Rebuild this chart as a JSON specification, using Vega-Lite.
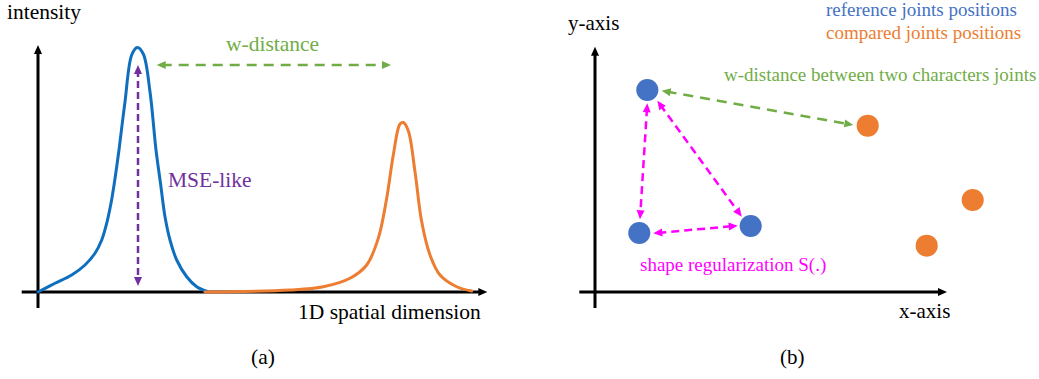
{
  "$schema": "https://vega.github.io/schema/vega-lite/v6.json",
  "padding": 0,
  "spacing": 0,
  "background": "white",
  "config": {"view": {"stroke": null}},
  "datasets": {
    "curves": [
      {"role": "curveRef", "x": 0, "y": 0}, {"role": "curveRef", "x": 0.34, "y": 0.035}, {"role": "curveRef", "x": 0.674, "y": 0.068},
      {"role": "curveRef", "x": 0.94, "y": 0.108}, {"role": "curveRef", "x": 1.14, "y": 0.155}, {"role": "curveRef", "x": 1.274, "y": 0.208},
      {"role": "curveRef", "x": 1.374, "y": 0.275}, {"role": "curveRef", "x": 1.46, "y": 0.355}, {"role": "curveRef", "x": 1.526, "y": 0.435},
      {"role": "curveRef", "x": 1.574, "y": 0.501}, {"role": "curveRef", "x": 1.62, "y": 0.568}, {"role": "curveRef", "x": 1.74, "y": 0.761},
      {"role": "curveRef", "x": 1.874, "y": 0.948}, {"role": "curveRef", "x": 1.986, "y": 0.978}, {"role": "curveRef", "x": 2.106, "y": 0.952},
      {"role": "curveRef", "x": 2.24, "y": 0.801}, {"role": "curveRef", "x": 2.36, "y": 0.568}, {"role": "curveRef", "x": 2.45, "y": 0.435},
      {"role": "curveRef", "x": 2.54, "y": 0.301}, {"role": "curveRef", "x": 2.64, "y": 0.208}, {"role": "curveRef", "x": 2.774, "y": 0.128},
      {"role": "curveRef", "x": 2.974, "y": 0.061}, {"role": "curveRef", "x": 3.174, "y": 0.021}, {"role": "curveRef", "x": 3.374, "y": 0.003},
      {"role": "curveCmp", "x": 3.34, "y": 0}, {"role": "curveCmp", "x": 5.04, "y": 0.008}, {"role": "curveCmp", "x": 5.706, "y": 0.021},
      {"role": "curveCmp", "x": 6.24, "y": 0.055}, {"role": "curveCmp", "x": 6.574, "y": 0.108}, {"role": "curveCmp", "x": 6.806, "y": 0.215},
      {"role": "curveCmp", "x": 6.974, "y": 0.375}, {"role": "curveCmp", "x": 7.106, "y": 0.548}, {"role": "curveCmp", "x": 7.24, "y": 0.672},
      {"role": "curveCmp", "x": 7.306, "y": 0.678}, {"role": "curveCmp", "x": 7.406, "y": 0.645}, {"role": "curveCmp", "x": 7.54, "y": 0.481},
      {"role": "curveCmp", "x": 7.674, "y": 0.281}, {"role": "curveCmp", "x": 7.84, "y": 0.148}, {"role": "curveCmp", "x": 8.04, "y": 0.068},
      {"role": "curveCmp", "x": 8.374, "y": 0.021}, {"role": "curveCmp", "x": 8.674, "y": 0.004}
    ],
    "segA": [
      {"role": "axis", "x": 0, "y": -0.064, "x2": 0, "y2": 0.968},
      {"role": "axis", "x": -0.326, "y": 0, "x2": 8.886, "y2": 0},
      {"role": "wd", "x": 2.474, "y": 0.908, "x2": 6.96, "y2": 0.908},
      {"role": "mse", "x": 2.0, "y": 0.888, "x2": 2.0, "y2": 0.044}
    ],
    "headsA": [
      {"role": "axis", "x": 0, "y": 0.968, "fx": 0, "fy": 0},
      {"role": "axis", "x": 8.886, "y": 0, "fx": 0, "fy": 0},
      {"role": "wd", "x": 2.474, "y": 0.908, "fx": 6.96, "fy": 0.908},
      {"role": "wd", "x": 6.96, "y": 0.908, "fx": 2.474, "fy": 0.908},
      {"role": "mse", "x": 2.0, "y": 0.888, "fx": 2.0, "fy": 0.044},
      {"role": "mse", "x": 2.0, "y": 0.044, "fx": 2.0, "fy": 0.888}
    ],
    "textA": [
      {"role": "axis", "label": "intensity", "x": -0.62, "y": 1.116},
      {"role": "wd", "label": "w-distance", "x": 3.76, "y": 0.988},
      {"role": "mse", "label": "MSE-like", "x": 2.6, "y": 0.444},
      {"role": "axis", "label": "1D spatial dimension", "x": 5.2, "y": -0.084},
      {"role": "axis", "label": "(a)", "x": 4.26, "y": -0.264}
    ],
    "segB": [
      {"role": "axis", "x": 0, "y": -0.32, "x2": 0, "y2": 4.806},
      {"role": "axis", "x": -0.314, "y": 0, "x2": 6.94, "y2": 0},
      {"role": "wd", "x": 1.432, "y": 4.008, "x2": 5.068, "y2": 3.358},
      {"role": "shape", "x": 1.04, "y": 3.674, "x2": 0.906, "y2": 1.554},
      {"role": "shape", "x": 1.305, "y": 3.745, "x2": 2.875, "y2": 1.587},
      {"role": "shape", "x": 1.266, "y": 1.183, "x2": 2.754, "y2": 1.317}
    ],
    "headsB": [
      {"role": "axis", "x": 0, "y": 4.806, "fx": 0, "fy": 0},
      {"role": "axis", "x": 6.94, "y": 0, "fx": 0, "fy": 0},
      {"role": "wd", "x": 1.432, "y": 4.008, "fx": 5.068, "fy": 3.358},
      {"role": "wd", "x": 5.068, "y": 3.358, "fx": 1.432, "fy": 4.008},
      {"role": "shape", "x": 1.04, "y": 3.674, "fx": 0.906, "fy": 1.554},
      {"role": "shape", "x": 0.906, "y": 1.554, "fx": 1.04, "fy": 3.674},
      {"role": "shape", "x": 1.305, "y": 3.745, "fx": 2.875, "fy": 1.587},
      {"role": "shape", "x": 2.875, "y": 1.587, "fx": 1.305, "fy": 3.745},
      {"role": "shape", "x": 1.266, "y": 1.183, "fx": 2.754, "fy": 1.317},
      {"role": "shape", "x": 2.754, "y": 1.317, "fx": 1.266, "fy": 1.183}
    ],
    "joints": [
      {"role": "ref", "x": 1.046, "y": 4.04},
      {"role": "ref", "x": 0.886, "y": 1.18},
      {"role": "ref", "x": 3.114, "y": 1.32},
      {"role": "cmp", "x": 5.454, "y": 3.326},
      {"role": "cmp", "x": 7.554, "y": 1.84},
      {"role": "cmp", "x": 6.634, "y": 0.926}
    ],
    "textB": [
      {"role": "axis", "kind": "axis", "label": "y-axis", "x": -0.54, "y": 5.36},
      {"role": "axis", "kind": "axis", "label": "x-axis", "x": 6.08, "y": -0.4},
      {"role": "axis", "kind": "axis", "label": "(b)", "x": 3.7, "y": -1.32},
      {"role": "ref", "kind": "note", "label": "reference joints positions", "x": 4.62, "y": 5.64},
      {"role": "cmp", "kind": "note", "label": "compared joints positions", "x": 4.62, "y": 5.18},
      {"role": "wd", "kind": "note", "label": "w-distance between two characters joints", "x": 2.58, "y": 4.34},
      {"role": "shape", "kind": "note", "label": "shape regularization S(.)", "x": 0.9, "y": 0.54}
    ]
  },
  "hconcat": [
    {
      "width": 520,
      "height": 379,
      "encoding": {
        "x": {"field": "x", "type": "quantitative", "axis": null, "scale": {"domain": [-0.76, 9.64], "nice": false, "zero": false}},
        "y": {"field": "y", "type": "quantitative", "axis": null, "scale": {"domain": [-0.348, 1.168], "nice": false, "zero": false}},
        "color": {"field": "role", "type": "nominal", "legend": null, "scale": {"domain": ["axis", "curveRef", "curveCmp", "ref", "cmp", "wd", "mse", "shape"], "range": ["#000000", "#0F6FBF", "#ED7D31", "#4472C4", "#ED7D31", "#70AD47", "#7030A0", "#FF00FF"]}}
      },
      "layer": [
        {
          "data": {"name": "segA"},
          "transform": [{"filter": "datum.role === 'axis'"}],
          "mark": {"type": "rule", "strokeWidth": 3},
          "encoding": {"x2": {"field": "x2"}, "y2": {"field": "y2"}}
        },
        {
          "data": {"name": "curves"},
          "mark": {"type": "line", "strokeWidth": 3, "interpolate": "catmull-rom", "strokeCap": "round"},
          "encoding": {"detail": {"field": "role"}}
        },
        {
          "data": {"name": "segA"},
          "transform": [{"filter": "datum.role === 'wd'"}],
          "mark": {"type": "rule", "strokeWidth": 2.5, "strokeDash": [10, 7]},
          "encoding": {"x2": {"field": "x2"}, "y2": {"field": "y2"}}
        },
        {
          "data": {"name": "segA"},
          "transform": [{"filter": "datum.role === 'mse'"}],
          "mark": {"type": "rule", "strokeWidth": 2.5, "strokeDash": [7, 4]},
          "encoding": {"x2": {"field": "x2"}, "y2": {"field": "y2"}}
        },
        {
          "data": {"name": "headsA"},
          "transform": [{"calculate": "atan2(datum.x - datum.fx, datum.y - datum.fy) * 180 / PI", "as": "ang"}],
          "mark": {"type": "point", "filled": true, "opacity": 1, "shape": "M0,-1L0.8,0.8L-0.8,0.8Z", "size": 100},
          "encoding": {"angle": {"field": "ang", "type": "quantitative", "scale": null}}
        },
        {
          "data": {"name": "textA"},
          "mark": {"type": "text", "font": "Liberation Serif", "fontSize": 21.5, "align": "left", "baseline": "middle"},
          "encoding": {"text": {"field": "label"}}
        }
      ]
    },
    {
      "width": 519,
      "height": 379,
      "encoding": {
        "x": {"field": "x", "type": "quantitative", "axis": null, "scale": {"domain": [-1.5, 8.88], "nice": false, "zero": false}},
        "y": {"field": "y", "type": "quantitative", "axis": null, "scale": {"domain": [-1.74, 5.84], "nice": false, "zero": false}},
        "color": {"field": "role", "type": "nominal", "legend": null, "scale": {"domain": ["axis", "curveRef", "curveCmp", "ref", "cmp", "wd", "mse", "shape"], "range": ["#000000", "#0F6FBF", "#ED7D31", "#4472C4", "#ED7D31", "#70AD47", "#7030A0", "#FF00FF"]}}
      },
      "layer": [
        {
          "data": {"name": "segB"},
          "transform": [{"filter": "datum.role === 'axis'"}],
          "mark": {"type": "rule", "strokeWidth": 3},
          "encoding": {"x2": {"field": "x2"}, "y2": {"field": "y2"}}
        },
        {
          "data": {"name": "segB"},
          "transform": [{"filter": "datum.role === 'wd'"}],
          "mark": {"type": "rule", "strokeWidth": 2.5, "strokeDash": [10, 7]},
          "encoding": {"x2": {"field": "x2"}, "y2": {"field": "y2"}}
        },
        {
          "data": {"name": "segB"},
          "transform": [{"filter": "datum.role === 'shape'"}],
          "mark": {"type": "rule", "strokeWidth": 2.5, "strokeDash": [8, 5]},
          "encoding": {"x2": {"field": "x2"}, "y2": {"field": "y2"}}
        },
        {
          "data": {"name": "headsB"},
          "transform": [{"calculate": "atan2(datum.x - datum.fx, datum.y - datum.fy) * 180 / PI", "as": "ang"}],
          "mark": {"type": "point", "filled": true, "opacity": 1, "shape": "M0,-1L0.8,0.8L-0.8,0.8Z", "size": 100},
          "encoding": {"angle": {"field": "ang", "type": "quantitative", "scale": null}}
        },
        {
          "data": {"name": "joints"},
          "mark": {"type": "circle", "size": 490, "opacity": 1},
          "encoding": {}
        },
        {
          "data": {"name": "textB"},
          "transform": [{"filter": "datum.kind === 'axis'"}],
          "mark": {"type": "text", "font": "Liberation Serif", "fontSize": 21, "align": "left", "baseline": "middle"},
          "encoding": {"text": {"field": "label"}}
        },
        {
          "data": {"name": "textB"},
          "transform": [{"filter": "datum.kind === 'note'"}],
          "mark": {"type": "text", "font": "Liberation Serif", "fontSize": 19, "align": "left", "baseline": "middle"},
          "encoding": {"text": {"field": "label"}}
        }
      ]
    }
  ]
}
